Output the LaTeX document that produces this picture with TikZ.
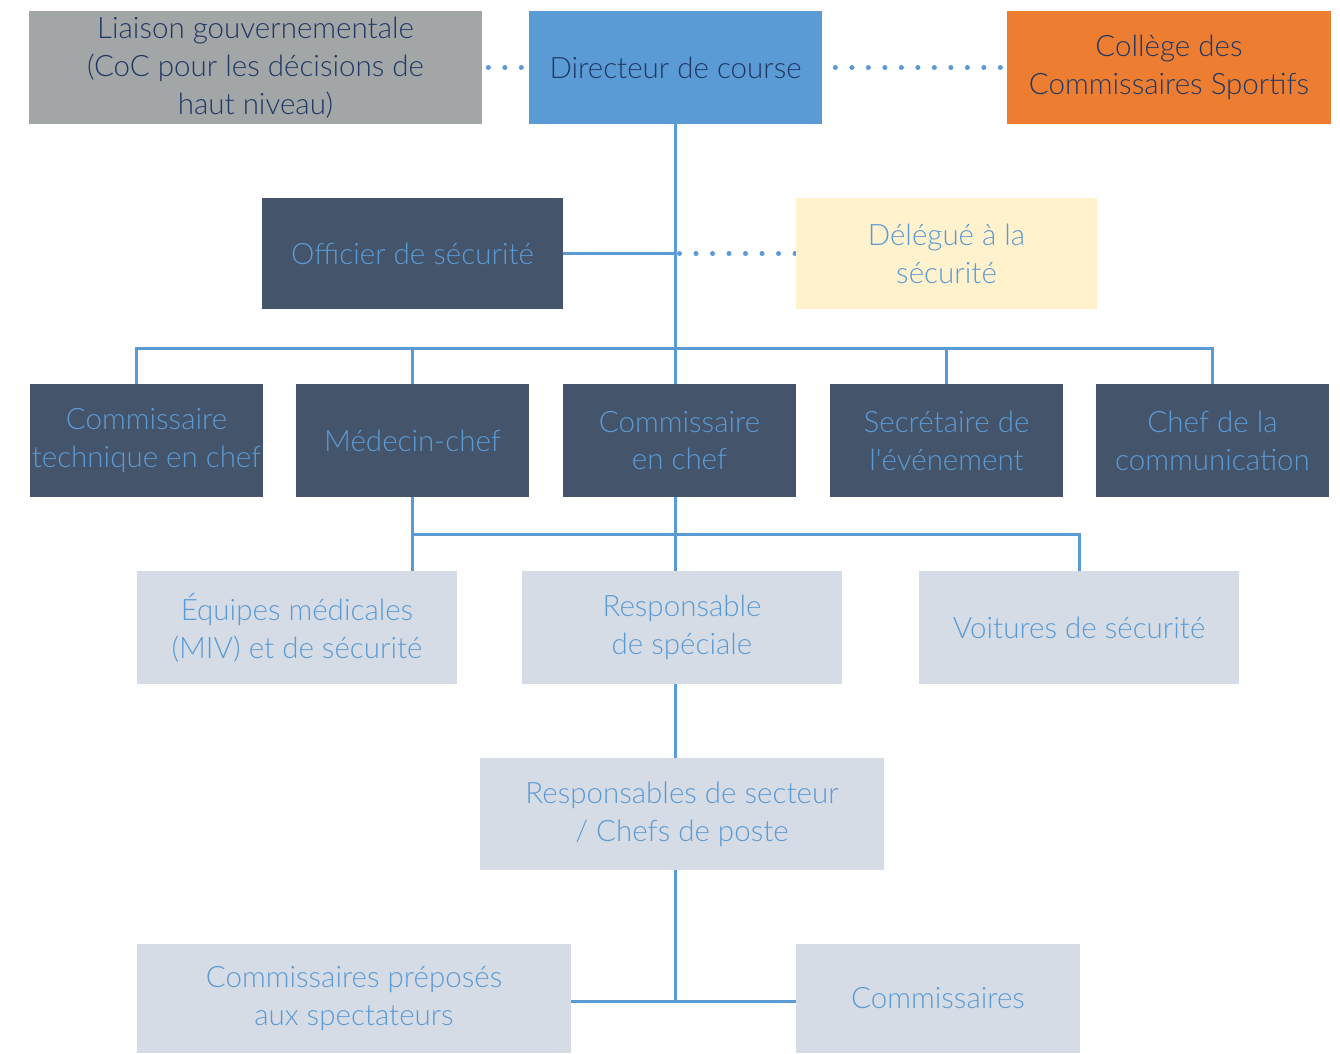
\documentclass[tikz,border=0pt]{standalone}
\usepackage{fontspec}
\IfFontExistsTF{Lato Light}{\setmainfont{Lato Light}}{\setmainfont{Lato}}
\usetikzlibrary{positioning, calc, backgrounds}
\definecolor{navy}{HTML}{203864}
\definecolor{linkblue}{HTML}{5B9BD5}
\definecolor{slate}{HTML}{44546A}
\definecolor{pale}{HTML}{D6DCE5}
\definecolor{cream}{HTML}{FFF2CC}
\definecolor{greybox}{HTML}{A3A6A7}
\definecolor{orangebox}{HTML}{ED7D31}

\begin{document}
\begin{tikzpicture}[
  box/.style={rectangle, inner sep=0pt, align=center, font=\fontsize{16.8}{21.6}\selectfont},
  topbox/.style={box, minimum height=2.26cm, text=navy},
  darkbox/.style={box, fill=slate, text=linkblue, minimum width=4.66cm, minimum height=2.26cm},
  lightbox/.style={box, fill=pale, text=linkblue, minimum height=2.26cm},
  link/.style={draw=linkblue, line width=1.7pt},
  dots/.style={draw=linkblue, line width=0.1cm, line cap=round, dash pattern=on 0pt off 0.33cm, shorten >=0cm}
]
  \useasboundingbox (0,0) rectangle (26.8,-21.06);
  % top row
  \node[topbox, fill=greybox, minimum width=9.06cm] (liaison) at (5.11,-1.35) {Liaison gouvernementale\\(CoC pour les décisions de\\haut niveau)};
  \node[topbox, fill=linkblue, minimum width=5.86cm] (dir) at (13.51,-1.35) {Directeur de course};
  \node[topbox, fill=orangebox, minimum width=6.48cm] (college) at (23.38,-1.35) {Collège des\\Commissaires Sportifs};
  % security
  \node[box, fill=slate, text=linkblue, minimum width=6.02cm, minimum height=2.22cm] (off) at (8.25,-5.07) {Officier de sécurité};
  \node[box, fill=cream, text=linkblue, minimum width=6.02cm, minimum height=2.22cm] (dele) at (18.93,-5.07) {Délégué à la\\sécurité};
  % chiefs
  \node[darkbox] (tech) at (2.93,-8.81) {Commissaire\\technique en chef};
  \node[darkbox] (med) at (8.25,-8.81) {Médecin-chef};
  \node[darkbox] (ccomm) at (13.59,-8.81) {Commissaire\\en chef};
  \node[darkbox] (secr) at (18.93,-8.81) {Secrétaire de\\l\textquotesingle événement};
  \node[darkbox] (chefcom) at (24.25,-8.81) {Chef de la\\communication};
  % teams
  \node[lightbox, minimum width=6.4cm] (equi) at (5.94,-12.55) {Équipes médicales\\(MIV) et de sécurité};
  \node[lightbox, minimum width=6.4cm] (resp) at (13.64,-12.55) {Responsable\\de spéciale};
  \node[lightbox, minimum width=6.4cm] (voit) at (21.58,-12.55) {Voitures de sécurité};
  \node[lightbox, minimum width=8.08cm, minimum height=2.24cm] (sect) at (13.64,-16.28) {Responsables de secteur\\/ Chefs de poste};
  \node[lightbox, minimum width=8.68cm, minimum height=2.18cm] (prep) at (7.08,-19.97) {Commissaires préposés\\aux spectateurs};
  \node[lightbox, minimum width=5.68cm, minimum height=2.18cm] (comm) at (18.76,-19.97) {Commissaires};

  \coordinate (bus1) at (13.51,-6.96);
  \coordinate (bus2) at (13.51,-10.68);
  \coordinate (j5) at (13.51,-20.02);

  \begin{scope}[on background layer]
    \draw[dots, shorten <=0.12cm] (liaison.east) -- (dir.west);
    \draw[dots, shorten <=0.26cm] (dir.east) -- (college.west);
    \draw[link] (dir.south) -- (bus1);
    \draw[link] (off.east) -- (off.east -| dir.south);
    \draw[dots, shorten <=0.08cm] (off.east -| dir.south) -- (dele.west);
    \draw[link] (tech.north -| equi.west) |- (bus1) -| (chefcom.north);
    \draw[link] (med.north) -- (med.north |- bus1);
    \draw[link] (secr.north) -- (secr.north |- bus1);
    \draw[link] (bus1) -- (bus1 |- ccomm.north);
    \draw[link] (ccomm.south -| bus2) -- (resp.north -| bus2);
    \draw[link] (med.south) -- (med.south |- equi.north);
    \draw[link] (med.south |- bus2) -| (voit.north);
    \draw[link] (resp.south -| j5) -- (sect.north -| j5);
    \draw[link] (sect.south -| j5) -- (j5);
    \draw[link] (prep.east |- j5) -- (comm.west |- j5);
  \end{scope}
\end{tikzpicture}
\end{document}
